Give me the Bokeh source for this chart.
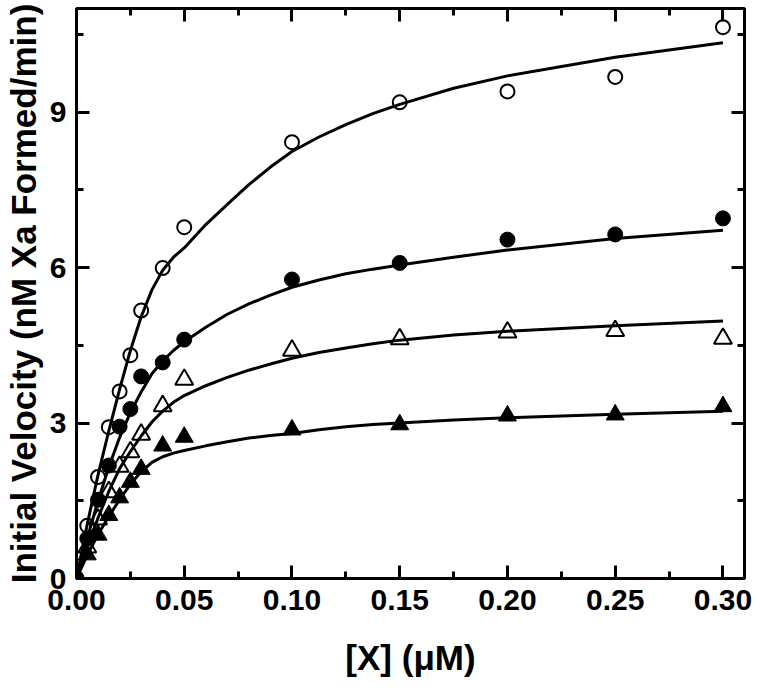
from bokeh.plotting import figure
from bokeh.models import Range1d, LinearAxis, SingleIntervalTicker, PrintfTickFormatter, CustomJSTickFormatter
from bokeh.embed import file_html
from bokeh.resources import INLINE

# ---- data ----
x_conc = [0.0, 0.005, 0.01, 0.015, 0.02, 0.025, 0.03, 0.04, 0.05, 0.10, 0.15, 0.20, 0.25, 0.30]
open_circle = [0.0, 1.02, 1.96, 2.92, 3.61, 4.31, 5.17, 5.99, 6.78, 8.42, 9.19, 9.40, 9.68, 10.64]
filled_circle = [0.0, 0.77, 1.52, 2.18, 2.93, 3.27, 3.90, 4.17, 4.61, 5.77, 6.09, 6.54, 6.64, 6.95]
open_triangle = [0.0, 0.60, 1.14, 1.67, 2.16, 2.44, 2.78, 3.33, 3.84, 4.40, 4.62, 4.75, 4.78, 4.63]
filled_triangle = [0.0, 0.46, 0.84, 1.22, 1.56, 1.86, 2.11, 2.56, 2.73, 2.87, 2.97, 3.14, 3.16, 3.32]

# fitted curves at these concentrations
fit_x = [0.0, 0.005, 0.01, 0.015, 0.02, 0.025, 0.03, 0.035, 0.04, 0.045, 0.05,
         0.06, 0.07, 0.08, 0.09, 0.10, 0.1125, 0.125, 0.1375, 0.15, 0.175, 0.20, 0.25, 0.30]
fit_open_circle = [0.0, 1.05, 2.0, 2.85, 3.65, 4.4, 5.05, 5.57, 5.95, 6.2, 6.38,
                   6.83, 7.22, 7.6, 7.94, 8.24, 8.52, 8.76, 8.97, 9.15, 9.46, 9.70, 10.06, 10.34]
fit_filled_circle = [0.0, 0.78, 1.5, 2.15, 2.72, 3.2, 3.6, 3.95, 4.2, 4.4, 4.57,
                     4.85, 5.1, 5.3, 5.47, 5.62, 5.76, 5.88, 5.97, 6.05, 6.20, 6.34, 6.56, 6.72]
fit_open_triangle = [0.0, 0.6, 1.17, 1.68, 2.12, 2.45, 2.75, 3.02, 3.23, 3.4, 3.53,
                     3.72, 3.88, 4.02, 4.14, 4.25, 4.36, 4.45, 4.53, 4.6, 4.7, 4.77, 4.88, 4.97]
fit_filled_triangle = [0.0, 0.45, 0.85, 1.2, 1.52, 1.82, 2.06, 2.24, 2.35, 2.42, 2.47,
                       2.56, 2.64, 2.71, 2.76, 2.8, 2.87, 2.93, 2.97, 3.0, 3.06, 3.1, 3.17, 3.23]

x_label = "[X] (\u03bcM)"
y_label = "Initial Velocity (nM Xa Formed/min)"

FONT = "Liberation Sans"

p = figure(frame_width=668, frame_height=570,
           x_range=Range1d(0, 0.31), y_range=Range1d(0, 11),
           output_backend="svg", toolbar_location=None,
           min_border_left=10, min_border_right=10, min_border_top=8, min_border_bottom=6,
           x_axis_label=x_label, y_axis_label=y_label)
p.background_fill_color = "white"
p.border_fill_color = "white"
p.grid.visible = False
p.outline_line_color = "black"
p.outline_line_width = 3

def style(ax):
    ax.axis_line_width = 3
    ax.axis_line_color = "black"
    ax.major_tick_in = 13
    ax.major_tick_out = 0
    ax.minor_tick_in = 7
    ax.minor_tick_out = 0
    ax.major_tick_line_width = 3
    ax.minor_tick_line_width = 3
    ax.major_label_text_font = FONT
    ax.major_label_text_font_style = "bold"
    ax.major_label_text_font_size = "30px"
    ax.major_label_text_color = "black"
    ax.axis_label_text_font = FONT
    ax.axis_label_text_font_style = "bold"
    ax.axis_label_text_font_size = "35px"
    ax.axis_label_text_color = "black"

xa = p.xaxis[0]
xa.ticker = SingleIntervalTicker(interval=0.05, num_minor_ticks=2)
xa.formatter = PrintfTickFormatter(format="%.2f")
style(xa)
xa.major_label_standoff = 11
xa.axis_label_standoff = 25

ya = p.yaxis[0]
ya.ticker = SingleIntervalTicker(interval=3, num_minor_ticks=2)
ya.formatter = PrintfTickFormatter(format="%d")
style(ya)
ya.major_label_standoff = 10
ya.axis_label_standoff = 4

blank = CustomJSTickFormatter(code="return ''")

top = LinearAxis(ticker=SingleIntervalTicker(interval=0.05, num_minor_ticks=2), formatter=blank)
style(top)
top.major_label_standoff = 0
p.add_layout(top, "above")

right = LinearAxis(ticker=SingleIntervalTicker(interval=3, num_minor_ticks=2), formatter=blank)
style(right)
right.major_label_standoff = 0
p.add_layout(right, "right")

# curves
for fy in (fit_open_circle, fit_filled_circle, fit_open_triangle, fit_filled_triangle):
    p.line(fit_x, fy, line_color="black", line_width=3)

# data points
p.scatter(x_conc, open_circle, marker="circle", size=14, line_color="black",
          line_width=2, fill_color=None)
p.scatter(x_conc, filled_circle, marker="circle", size=15, line_color="black",
          line_width=1, fill_color="black")
p.scatter(x_conc, open_triangle, marker="triangle", size=18, line_color="black",
          line_width=2, fill_color=None)
p.scatter(x_conc, filled_triangle, marker="triangle", size=18, line_color="black",
          line_width=1, fill_color="black")

open("out.html", "w").write(file_html(p, INLINE))
